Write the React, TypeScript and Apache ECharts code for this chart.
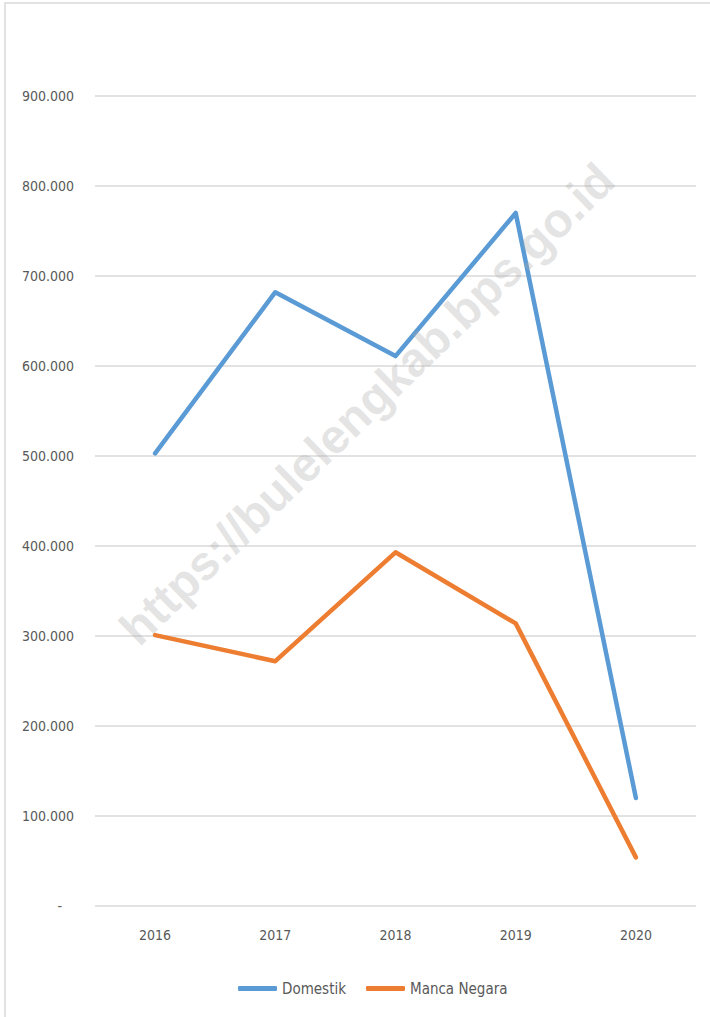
import React, { useEffect, useRef } from "react";
import * as echarts from "echarts";

const years = ["2016", "2017", "2018", "2019", "2020"];
const domestik = [503000, 682000, 611000, 770000, 120000];
const mancaNegara = [301000, 272000, 393000, 314000, 54000];
const seriesNames = ["Domestik", "Manca Negara"];
const watermark = "https://bulelengkab.bps.go.id";

const FONT = "'Liberation Sans Narrow', 'DejaVu Sans Condensed', 'Open Sans', sans-serif";

function fmt(v: number): string {
  if (v === 0) return "-   ";
  return String(Math.round(v)).replace(/\B(?=(\d{3})+(?!\d))/g, ".");
}

export default function App() {
  const ref = useRef<HTMLDivElement>(null);
  useEffect(() => {
    document.body.style.margin = "0";
    const chart = echarts.init(ref.current!, undefined, { renderer: "svg" });
    chart.setOption({
      animation: false,
      backgroundColor: "#ffffff",
      grid: { left: 95, right: 14, top: 96, bottom: 111 },
      legend: {
        left: 233,
        top: 976,
        itemWidth: 39,
        itemHeight: 5,
        itemGap: 20,
        icon: "roundRect",
        textStyle: { color: "#595959", fontSize: 15, fontFamily: FONT },
        data: seriesNames,
      },
      xAxis: {
        type: "category",
        data: years,
        boundaryGap: true,
        axisLine: { show: false },
        axisTick: { show: false },
        axisLabel: { color: "#595959", fontSize: 14, fontFamily: FONT, margin: 22 },
      },
      yAxis: {
        type: "value",
        min: 0,
        max: 900000,
        interval: 100000,
        axisLine: { show: false },
        axisTick: { show: false },
        splitLine: { lineStyle: { color: "#d9d9d9", width: 1.5 } },
        axisLabel: {
          color: "#595959",
          fontSize: 14,
          fontFamily: FONT,
          margin: 21,
          formatter: (v: number) => fmt(v),
        },
      },
      graphic: [
        {
          type: "rect",
          silent: true,
          z: -10,
          shape: { x: 5, y: 3, width: 800, height: 1100 },
          style: { fill: "none", stroke: "#d9d9d9", lineWidth: 1.5 },
        },
        {
          type: "text",
          silent: true,
          z: 100,
          x: 367,
          y: 404,
          rotation: 0.77,
          style: {
            text: watermark,
            fill: "rgba(170,170,170,0.33)",
            font: "bold 48px 'Liberation Sans', Arial, sans-serif",
            align: "center",
            verticalAlign: "middle",
          },
        },
      ],
      series: [
        {
          name: seriesNames[0],
          type: "line",
          data: domestik,
          symbol: "none",
          itemStyle: { color: "#5b9bd5" },
          lineStyle: { color: "#5b9bd5", width: 4.5, cap: "round", join: "round" },
        },
        {
          name: seriesNames[1],
          type: "line",
          data: mancaNegara,
          symbol: "none",
          itemStyle: { color: "#ed7d31" },
          lineStyle: { color: "#ed7d31", width: 4.5, cap: "round", join: "round" },
        },
      ],
    });
    return () => chart.dispose();
  }, []);
  return <div ref={ref} style={{ width: 710, height: 1017 }} />;
}
